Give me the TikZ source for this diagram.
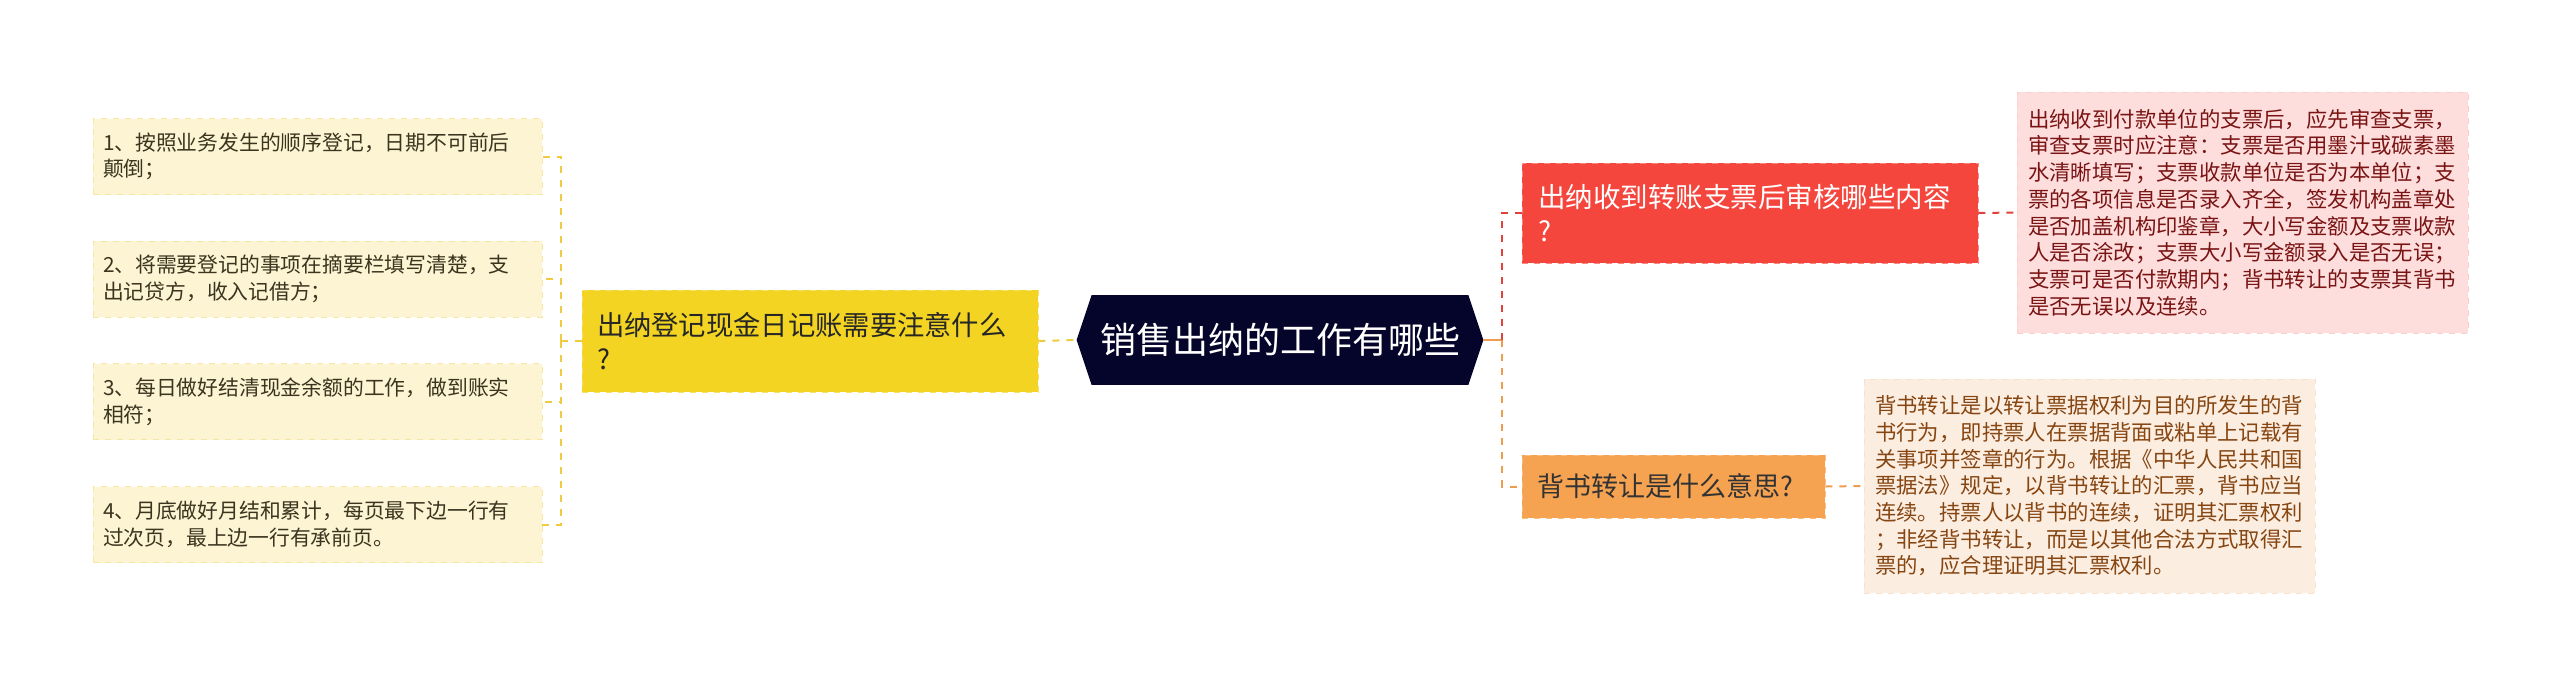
\documentclass[tikz,border=0pt]{standalone}
\usepackage{fontspec}
\setmainfont{Noto Sans CJK SC}
\usetikzlibrary{backgrounds}

\definecolor{leafc}{HTML}{FCF4D2}
\definecolor{leafedge}{HTML}{F5E6A4}
\definecolor{leaftext}{HTML}{3B3520}
\definecolor{yellowc}{HTML}{F3D423}
\definecolor{yellowedge}{HTML}{F7E06A}
\definecolor{ylinec}{HTML}{F0CA40}
\definecolor{hubc}{HTML}{05042A}
\definecolor{redc}{HTML}{F5463E}
\definecolor{rededge}{HTML}{F98880}
\definecolor{rlinec}{HTML}{E0413B}
\definecolor{reddetc}{HTML}{FDDEDD}
\definecolor{reddetedge}{HTML}{FBCFCD}
\definecolor{reddettext}{HTML}{7A1414}
\definecolor{orangec}{HTML}{F5A251}
\definecolor{orangeedge}{HTML}{F8BE82}
\definecolor{olinec}{HTML}{EE9D50}
\definecolor{orangedetc}{HTML}{FCEDE1}
\definecolor{orangedetedge}{HTML}{F8E2CF}
\definecolor{orangedettext}{HTML}{864612}

\begin{document}
\begin{tikzpicture}[x=0.5pt, y=-0.5pt,
	leafbox/.style={fill=leafc, draw=leafedge, dashed, text=leaftext, align=left,
		text width=214.5pt, inner xsep=5pt, minimum height=38pt,
		font=\fontsize{10.4pt}{13.35pt}\selectfont},
	askbox/.style={fill=yellowc, draw=yellowedge, dashed, text=black!85, align=left,
		text width=213pt, inner xsep=7.5pt, minimum height=51pt,
		font=\fontsize{13.65pt}{17pt}\selectfont},
	hubbox/.style={text=white, minimum width=203pt, minimum height=44.5pt,
		font=\fontsize{18pt}{22pt}\selectfont},
	chkbox/.style={fill=redc, draw=rededge, dashed, text=white, align=left,
		text width=212pt, inner xsep=8pt, minimum height=50pt,
		font=\fontsize{13.75pt}{17pt}\selectfont},
	endobox/.style={fill=orangec, draw=orangeedge, dashed, text=black!80, align=left,
		text width=136.5pt, inner xsep=7.5pt, minimum height=31.5pt,
		font=\fontsize{13.5pt}{17pt}\selectfont},
	detbox/.style={dashed, align=left, text width=214.5pt, inner xsep=5.5pt,
		font=\fontsize{10.7pt}{13.35pt}\selectfont},
	yline/.style={ylinec, line width=1pt, dash pattern=on 3.5pt off 3.5pt},
	rline/.style={rlinec, line width=1pt, dash pattern=on 3.5pt off 3.5pt},
	oline/.style={olinec, line width=1pt, dash pattern=on 3.5pt off 3.5pt}]
	
	\useasboundingbox (0,0) rectangle (2560,686);
	
	% Chủ đề trung tâm
	\node[hubbox] (hub) at (1280,340) {销售出纳的工作有哪些};
	\begin{scope}[on background layer]
		\fill[hubc] (hub.west) -- ([xshift=7.5pt]hub.north west) -- ([xshift=-7.5pt]hub.north east)
			-- (hub.east) -- ([xshift=-7.5pt]hub.south east) -- ([xshift=7.5pt]hub.south west) -- cycle;
	\end{scope}
	
	% Nhánh trái
	\node[askbox] (ask) at (810,341) {出纳登记现金日记账需要注意什么\\?};
	
	\node[leafbox] (leaf1) at (317.5,156.5) {1、按照业务发生的顺序登记，日期不可前后\\颠倒；};
	\node[leafbox] (leaf2) at (317.5,279) {2、将需要登记的事项在摘要栏填写清楚，支\\出记贷方，收入记借方；};
	\node[leafbox] (leaf3) at (317.5,401.5) {3、每日做好结清现金余额的工作，做到账实\\相符；};
	\node[leafbox] (leaf4) at (317.5,524.5) {4、月底做好月结和累计，每页最下边一行有\\过次页，最上边一行有承前页。};
	
	% Nhánh phải
	\node[chkbox] (chk) at (1750,213) {出纳收到转账支票后审核哪些内容\\?};
	\node[endobox] (endo) at (1673.5,486.5) {背书转让是什么意思?};
	
	\node[detbox, fill=reddetc, draw=reddetedge, text=reddettext, minimum height=120.5pt] (chkdet) at (2242.5,212.5)
		{出纳收到付款单位的支票后，应先审查支票，\\审查支票时应注意：支票是否用墨汁或碳素墨\\水清晰填写；支票收款单位是否为本单位；支\\票的各项信息是否录入齐全，签发机构盖章处\\是否加盖机构印鉴章，大小写金额及支票收款\\人是否涂改；支票大小写金额录入是否无误；\\支票可是否付款期内；背书转让的支票其背书\\是否无误以及连续。};
	\node[detbox, fill=orangedetc, draw=orangedetedge, text=orangedettext, minimum height=107pt] (endodet) at (2089.5,486)
		{背书转让是以转让票据权利为目的所发生的背\\书行为，即持票人在票据背面或粘单上记载有\\关事项并签章的行为。根据《中华人民共和国\\票据法》规定，以背书转让的汇票，背书应当\\连续。持票人以背书的连续，证明其汇票权利\\；非经背书转让，而是以其他合法方式取得汇\\票的，应合理证明其汇票权利。};
	
	% Đường nối bên trái
	\coordinate (lbus) at (561,341);
	\draw[yline] (ask.east) -- (hub.west);
	\draw[yline] (ask.west) -- (lbus);
	\foreach \i in {1,...,4}
		\draw[yline] (lbus) |- (leaf\i.east);
	
	% Đường nối bên phải
	\coordinate (rbus) at (1502,340);
	\draw[olinec, line width=1pt] (hub.east) -- (rbus);
	\draw[rline] (rbus) |- (chk.west);
	\draw[oline] (rbus) |- (endo.west);
	\draw[rline] (chk.east) -- (chkdet.west);
	\draw[oline] (endo.east) -- (endodet.west);
\end{tikzpicture}
\end{document}
